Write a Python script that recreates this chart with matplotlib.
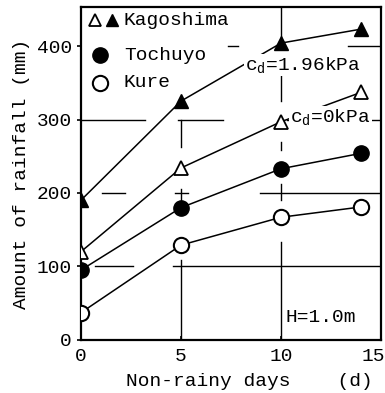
import matplotlib
matplotlib.use("Agg")
import matplotlib.pyplot as plt
from matplotlib.transforms import ScaledTranslation

plt.rcParams['font.family'] = ['Liberation Mono', 'DejaVu Sans']
plt.rcParams['mathtext.fontset'] = 'custom'
plt.rcParams['mathtext.rm'] = 'Liberation Mono'
plt.rcParams['mathtext.it'] = 'Liberation Mono'

# data
days = [0, 5, 10, 14]
kago_196 = [190, 325, 404, 423]   # Kagoshima, cd = 1.96 kPa
kago_0 = [120, 234, 297, 337]     # Kagoshima, cd = 0 kPa
tochuyo = [95, 180, 233, 254]
kure = [37, 129, 167, 181]

x_ticks = [0, 5, 10, 15]
y_ticks = [0, 100, 200, 300, 400]

fig = plt.figure(figsize=(3.85, 3.93), dpi=100)
ax = fig.add_axes([0.210, 0.135, 0.780, 0.847])
ax.set_xlim(0, 15)
ax.set_ylim(0, 453)

# broken grid lines as on the scanned original
lw_g = 1.0
for y, segs in [(100, [(0.7, 2.6), (4.6, 15)]),
                (200, [(1.05, 2.2), (4.7, 5.35), (8.95, 15)]),
                (300, [(0.05, 3.2), (4.85, 7.1), (10.3, 15)]),
                (400, [(7.35, 7.85), (13.35, 15)])]:
    for a, b in segs:
        ax.plot([a, b], [y, y], color='black', lw=lw_g, zorder=1)
for x, segs in [(5, [(0, 109), (190, 205), (262, 300)]),
                (10, [(0, 133), (190, 212), (258, 270), (325, 360), (410, 453)])]:
    for a, b in segs:
        ax.plot([x, x], [a, b], color='black', lw=lw_g, zorder=1)

lk = dict(color='black', lw=1.1, zorder=3)
ax.plot(days, kago_196, marker='^', ms=10, mfc='black', mec='black', **lk)
ax.plot(days, kago_0, marker='^', ms=10, mfc='white', mec='black', mew=1.3, **lk)
ax.plot(days, tochuyo, marker='o', ms=11, mfc='black', mec='black', **lk)
ax.plot(days, kure, marker='o', ms=11, mfc='white', mec='black', mew=1.5, **lk)

fs = 14
# legend drawn by hand
ax.plot([0.047], [0.961], marker='^', ms=9, mfc='white', mec='black', mew=1.3,
        transform=ax.transAxes, clip_on=False)
ax.plot([0.103], [0.961], marker='^', ms=9, mfc='black', mec='black',
        transform=ax.transAxes, clip_on=False)
ax.text(0.143, 0.961, 'Kagoshima', transform=ax.transAxes, fontsize=fs, va='center')
ax.plot([0.063], [0.856], marker='o', ms=11, mfc='black', mec='black',
        transform=ax.transAxes)
ax.text(0.143, 0.856, 'Tochuyo', transform=ax.transAxes, fontsize=fs, va='center')
ax.plot([0.063], [0.772], marker='o', ms=11, mfc='white', mec='black', mew=1.5,
        transform=ax.transAxes)
ax.text(0.143, 0.772, 'Kure', transform=ax.transAxes, fontsize=fs, va='center')

box = dict(facecolor='white', edgecolor='none', pad=1)
ax.text(8.2, 374, r'c$_\mathrm{d}$=1.96kPa', fontsize=fs, va='center', bbox=box, zorder=4)
ax.text(10.45, 303, r'c$_\mathrm{d}$=0kPa', fontsize=fs, va='center', bbox=box, zorder=4)
ax.text(10.2, 31, 'H=1.0m', fontsize=fs, va='center', zorder=4)

ax.set_xticks(x_ticks)
ax.set_yticks(y_ticks)
ax.tick_params(axis='both', labelsize=fs, length=3, width=1.2)
ax.tick_params(axis='x', direction='in', pad=6)
last = ax.get_xticklabels()[-1]
last.set_ha('right')
last.set_transform(last.get_transform() + ScaledTranslation(0.04, 0, fig.dpi_scale_trans))
for s in ax.spines.values():
    s.set_linewidth(1.6)

ax.set_ylabel('Amount of rainfall (mm)', fontsize=fs)
ax.yaxis.set_label_coords(-0.17, 0.5)
ax.set_xlabel('Non-rainy days    (d)', fontsize=fs)
ax.xaxis.set_label_coords(0.56, -0.1)

fig.savefig('out.png', dpi=100)
